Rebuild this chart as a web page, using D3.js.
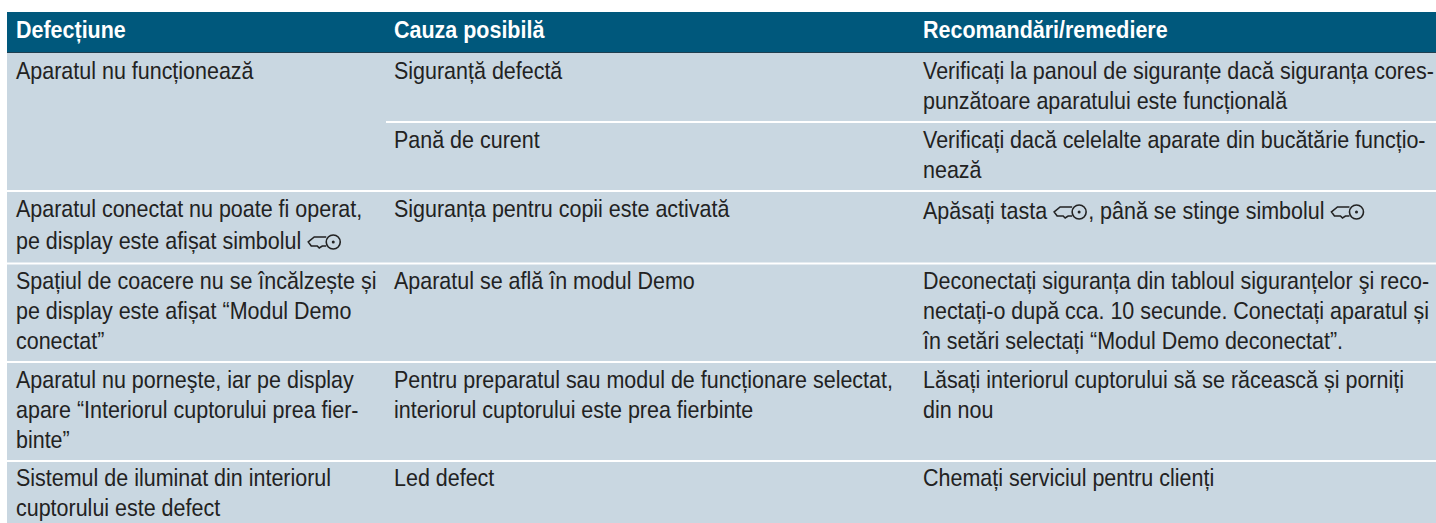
<!DOCTYPE html>
<html>
<head>
<meta charset="utf-8">
<script src="https://cdn.jsdelivr.net/npm/d3@7"></script>
<style>
body { margin: 0; background: #fff; }
</style>
</head>
<body>
<div id="chart"></div>
<script>
const W = 1436, H = 523;

const headers = ["Defecțiune", "Cauza posibilă", "Recomandări/remediere"];
const colX = [16, 394, 923];

// {k} marks the key symbol
const col1 = [
    { y: 0, lines: ["Aparatul nu funcționează"] },
    { y: 2, lines: ["Aparatul conectat nu poate fi operat,", "pe display este afișat simbolul {k}"] },
    { y: 3, lines: ["Spațiul de coacere nu se încălzește și", "pe display este afișat “Modul Demo", "conectat”"] },
    { y: 4, lines: ["Aparatul nu porneşte, iar pe display", "apare “Interiorul cuptorului prea fier-", "binte”"] },
    { y: 5, lines: ["Sistemul de iluminat din interiorul", "cuptorului este defect"] }
];
const col2 = [
    { y: 0, lines: ["Siguranță defectă"] },
    { y: 1, lines: ["Pană de curent"] },
    { y: 2, lines: ["Siguranța pentru copii este activată"] },
    { y: 3, lines: ["Aparatul se află în modul Demo"] },
    { y: 4, lines: ["Pentru preparatul sau modul de funcționare selectat,", "interiorul cuptorului este prea fierbinte"] },
    { y: 5, lines: ["Led defect"] }
];
const col3 = [
    { y: 0, lines: ["Verificați la panoul de siguranțe dacă siguranța cores-", "punzătoare aparatului este funcțională"] },
    { y: 1, lines: ["Verificați dacă celelalte aparate din bucătărie funcțio-", "nează"] },
    { y: 2, lines: ["Apăsați tasta {k}, până se stinge simbolul {k}"] },
    { y: 3, lines: ["Deconectați siguranța din tabloul siguranțelor şi reco-", "nectați-o după cca. 10 secunde. Conectați aparatul și", "în setări selectați “Modul Demo deconectat”."] },
    { y: 4, lines: ["Lăsați interiorul cuptorului să se răcească și porniți", "din nou"] },
    { y: 5, lines: ["Chemați serviciul pentru clienți"] }
];

const rowLines = [191, 263.5, 362, 461];
const subLine = 122;
const rowTop = [53, 122, 191, 263, 362, 460];

const svg = d3.select("#chart").append("svg")
    .attr("width", W)
    .attr("height", H)
    .style("display", "block");

const FONT = "'Liberation Sans', sans-serif";
const FONT_SIZE = 24;
const SX = 0.895; // condensed look, no narrow font available
const LINE_H = 30;
const INK = "#222";

svg.append("rect").attr("x", 7).attr("y", 12).attr("width", W - 7).attr("height", H - 12).attr("fill", "#c9d7e1");
svg.append("rect").attr("x", 7).attr("y", 12).attr("width", W - 7).attr("height", 40).attr("fill", "#00587c");
svg.append("line").attr("x1", 7).attr("x2", W).attr("y1", 52.5).attr("y2", 52.5).attr("stroke", "#1f3f50");

// row separators
svg.selectAll("line.row")
    .data(rowLines)
    .enter()
    .append("line")
    .attr("class", "row")
    .attr("x1", 7).attr("x2", W)
    .attr("y1", d => d).attr("y2", d => d)
    .attr("stroke", "#fff").attr("stroke-width", 2);
svg.append("line")
    .attr("x1", 386).attr("x2", W)
    .attr("y1", subLine).attr("y2", subLine)
    .attr("stroke", "#fff").attr("stroke-width", 2);

svg.selectAll("text.head")
    .data(headers)
    .enter()
    .append("text")
    .attr("class", "head")
    .attr("transform", (d, i) => `translate(${colX[i]},38) scale(${SX},1)`)
    .attr("font-family", FONT)
    .attr("font-size", FONT_SIZE)
    .attr("font-weight", "bold")
    .attr("fill", "#fff")
    .text(d => d);

function drawKey(x, baseline) {
    const g = svg.append("g").attr("transform", `translate(${x},${baseline - 7})`);
    g.append("path")
        .attr("d", "M18,-5 H6 L0,0 L3,4 H9 L11,6 L14,4 H18")
        .attr("fill", "none").attr("stroke", INK).attr("stroke-width", 1.6);
    g.append("circle").attr("cx", 25).attr("cy", 0).attr("r", 7)
        .attr("fill", "none").attr("stroke", INK).attr("stroke-width", 1.6);
    g.append("circle").attr("cx", 25).attr("cy", 0).attr("r", 1.5).attr("fill", INK);
}

function drawCol(cells, x) {
    cells.forEach(cell => {
        cell.lines.forEach((line, i) => {
            // lines with the key symbol sit a little lower
            const baseline = rowTop[cell.y] + 26 + i * LINE_H + (line.includes("{k}") ? 2 : 0);
            const parts = line.split("{k}");
            let cx = x;
            parts.forEach((part, j) => {
                const t = svg.append("text")
                    .attr("transform", `translate(${cx},${baseline}) scale(${SX},1)`)
                    .attr("font-family", FONT)
                    .attr("font-size", FONT_SIZE)
                    .attr("fill", INK)
                    .text(part);
                cx += t.node().getComputedTextLength() * SX;
                if (j < parts.length - 1) {
                    drawKey(cx + 7, baseline);
                    cx += 41;
                }
            });
        });
    });
}

drawCol(col1, colX[0]);
drawCol(col2, colX[1]);
drawCol(col3, colX[2]);
</script>
</body>
</html>
